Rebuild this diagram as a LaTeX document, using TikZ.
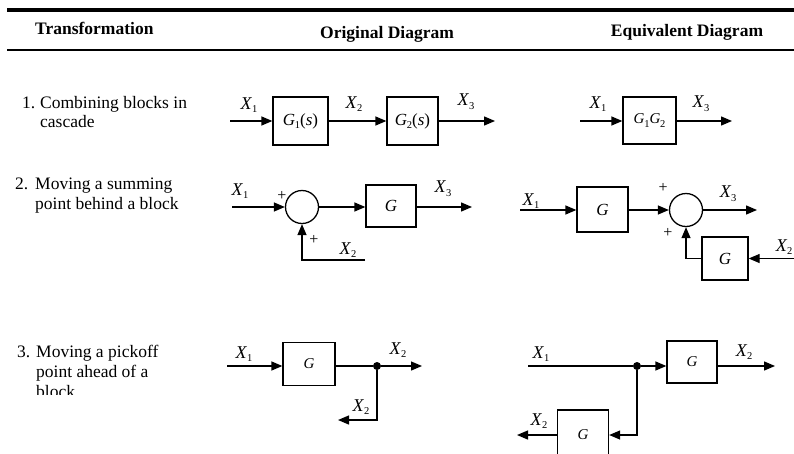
\documentclass[tikz,border=0pt]{standalone}
\usepackage{fontspec}
\setmainfont{Liberation Serif}
\usetikzlibrary{arrows.meta}
\newcommand\vsub[2]{\textit{#1}\kern-0.3pt\raisebox{-0.45ex}{\fontsize{10.5}{10.5}\selectfont #2}}
\begin{document}
\begin{tikzpicture}[x=1pt,y=-1pt,
  sig/.style={line width=1.3pt,-{Triangle[length=11pt,width=9pt]}},
  wire/.style={line width=1.3pt},
  blk/.style={draw,line width=1.3pt,inner sep=0pt,font=\fontsize{17}{17}\selectfont},
  sumc/.style={draw,circle,line width=1.3pt,minimum size=33pt,inner sep=0pt},
  lab/.style={font=\fontsize{18}{18}\selectfont,inner sep=0pt},
  pls/.style={font=\fontsize{16}{16}\selectfont,inner sep=0pt},
  txt/.style={font=\fontsize{17.5}{19}\selectfont,inner sep=0pt,anchor=base west},
  hdr/.style={font=\fontsize{17.5}{18}\selectfont\bfseries,inner sep=0pt,anchor=base},
  dot/.style={circle,fill,inner sep=0pt,minimum size=8pt}]
\useasboundingbox (0,0) rectangle (794,453);
% header rules
\draw[line width=4pt] (7,9.5) -- (794,9.5);
\draw[line width=1.3pt] (7,50) -- (794,50);
\node[hdr,anchor=base west] (h1) at (35,34) {Transformation};
\node[hdr] (h2) at (387,38) {Original Diagram};
\node[hdr] (h3) at (687,36) {Equivalent Diagram};
% left column texts
\node[txt] (n1) at (22,108) {1.};
\node[txt] (t1a) at (40,108) {Combining blocks in};
\node[txt] (t1b) at (40,127) {cascade};
\node[txt] (n2) at (15,189) {2.};
\node[txt] (t2a) at (35,189) {Moving a summing};
\node[txt] (t2b) at (35,209) {point behind a block};
\node[txt] (n3) at (17,357) {3.};
\node[txt] (t3a) at (36,357) {Moving a pickoff};
\node[txt] (t3b) at (36,377) {point ahead of a};
\begin{scope}
  \clip (0,0) rectangle (300,394);
  \node[txt] (t3c) at (36,397) {block};
\end{scope}
% ---- row 1 original
\coordinate (a1) at (230,121);
\node[blk,minimum width=55pt,minimum height=48pt] (g1) at (300.5,121) {\vsub{G}{1}(\textit{s})};
\node[blk,minimum width=51pt,minimum height=48pt] (g2) at (412.5,121) {\vsub{G}{2}(\textit{s})};
\coordinate (a1e) at (495,121);
\draw[sig] (a1) -- (g1.west);
\draw[sig] (g1.east) -- (g2.west);
\draw[sig] (g2.east) -- (a1e);
\node[lab] (la1) at (249,105) {\vsub{X}{1}};
\node[lab] (la2) at (354,104) {\vsub{X}{2}};
\node[lab] (la3) at (466,102) {\vsub{X}{3}};
% ---- row 1 equivalent
\coordinate (b1) at (580,121);
\node[blk,minimum width=53pt,minimum height=47pt,font=\fontsize{15}{15}\selectfont] (g12) at (649.5,120.5) {\vsub{G}{1}\vsub{G}{2}};
\coordinate (b1e) at (732,121);
\draw[sig] (b1) -- (g12.west|-b1);
\draw[sig] (g12.east|-b1) -- (b1e);
\node[lab] (lb1) at (598,104) {\vsub{X}{1}};
\node[lab] (lb3) at (701,104) {\vsub{X}{3}};
% ---- row 2 original
\coordinate (c1) at (232,207);
\node[sumc] (s1) at (302,207) {};
\node[blk,minimum width=50pt,minimum height=42pt] (gA) at (391,206) {\textit{G}};
\coordinate (c1e) at (472,207);
\coordinate (c2) at (365,260);
\draw[sig] (c1) -- (s1.west);
\draw[sig] (s1.east) -- (gA.west|-s1);
\draw[sig] (gA.east|-s1) -- (c1e);
\draw[sig] (c2) -| (s1.south);
\node[pls] (p1a) at (282,196) {+};
\node[pls] (p1b) at (314,240) {+};
\node[lab] (lc1) at (240,191) {\vsub{X}{1}};
\node[lab] (lc2) at (348,250) {\vsub{X}{2}};
\node[lab] (lc3) at (443,189) {\vsub{X}{3}};
% ---- row 2 equivalent
\coordinate (d1) at (520,210);
\node[blk,minimum width=51pt,minimum height=45pt] (gB) at (602.5,209.5) {\textit{G}};
\node[sumc] (s2) at (686,210) {};
\coordinate (d1e) at (757,210);
\node[blk,minimum width=46pt,minimum height=43pt] (gC) at (725,258.5) {\textit{G}};
\coordinate (d2) at (794,258.5);
\draw[sig] (d1) -- (gB.west|-d1);
\draw[sig] (gB.east|-d1) -- (s2.west);
\draw[sig] (s2.east) -- (d1e);
\draw[sig] (d2) -- (gC.east);
\draw[sig] (gC.west) -| (s2.south);
\node[pls] (p2a) at (663,188) {+};
\node[pls] (p2b) at (668,233) {+};
\node[lab] (ld1) at (531,201) {\vsub{X}{1}};
\node[lab] (ld3) at (728,194) {\vsub{X}{3}};
\node[lab] (ld2) at (784,247) {\vsub{X}{2}};
% ---- row 3 original
\coordinate (e1) at (227,366);
\node[blk,minimum width=52pt,minimum height=43pt,font=\fontsize{15}{15}\selectfont] (gD) at (309,364) {\textit{G}};
\node[dot] (q1) at (377,366) {};
\coordinate (e1e) at (422,366);
\coordinate (e2) at (338,420);
\draw[sig] (e1) -- (gD.west|-e1);
\draw[wire] (gD.east|-e1) -- (q1);
\draw[sig] (q1) -- (e1e);
\draw[sig] (q1) |- (e2);
\node[lab] (le1) at (244,354) {\vsub{X}{1}};
\node[lab] (le2) at (398,350) {\vsub{X}{2}};
\node[lab] (le3) at (361,407) {\vsub{X}{2}};
% ---- row 3 equivalent
\coordinate (f1) at (528,366);
\node[dot] (q2) at (637,366) {};
\node[blk,minimum width=50pt,minimum height=42pt,font=\fontsize{15}{15}\selectfont] (gE) at (692,362) {\textit{G}};
\coordinate (f1e) at (775,366);
\node[blk,minimum width=51pt,minimum height=50pt,font=\fontsize{15}{15}\selectfont] (gF) at (583,435) {\textit{G}};
\coordinate (f2) at (517,435);
\draw[wire] (f1) -- (q2);
\draw[sig] (q2) -- (gE.west|-q2);
\draw[sig] (gE.east|-q2) -- (f1e);
\draw[sig] (q2) |- (gF.east);
\draw[sig] (gF.west) -- (f2);
\node[lab] (lf1) at (541,354) {\vsub{X}{1}};
\node[lab] (lf2) at (744,352) {\vsub{X}{2}};
\node[lab] (lf3) at (539,421) {\vsub{X}{2}};
\end{tikzpicture}
\end{document}
